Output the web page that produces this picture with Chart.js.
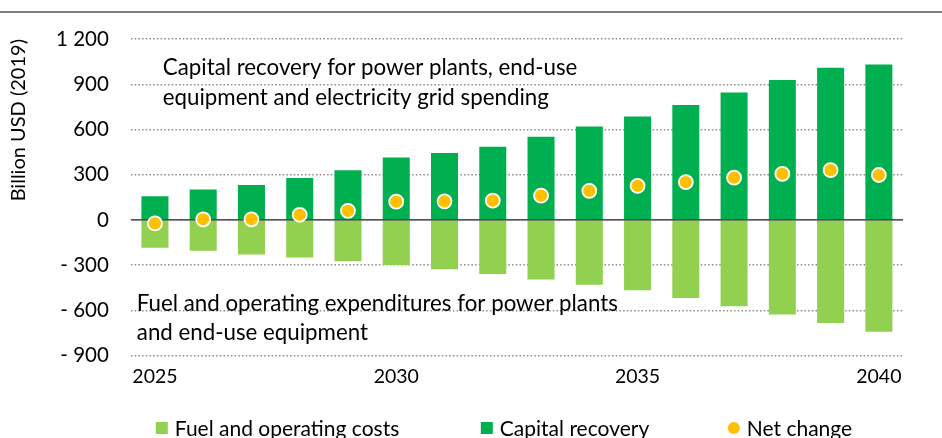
<!DOCTYPE html>
<html><head><meta charset="utf-8">
<script src="https://cdn.jsdelivr.net/npm/chart.js@4"></script>
<style>html,body{margin:0;padding:0;background:#fff}#wrap{width:942px;height:438px;position:relative}</style>
</head><body><div id="wrap"><canvas id="c"></canvas></div>
<script>
const years = ['2025','2026','2027','2028','2029','2030','2031','2032','2033','2034','2035','2036','2037','2038','2039','2040'];
const shownYearLabels = ['2025','2030','2035','2040'];
const capitalRecovery = [157,202,231,278,330,414,444,486,551,619,686,762,845,928,1009,1031];
const fuelCosts = [-184,-204,-229,-249,-274,-299,-328,-359,-395,-430,-467,-518,-572,-628,-684,-742];
const netChange = [-23,4,4,34,60,121,123,128,161,193,226,251,280,305,330,298];
const yTicks = [-900,-600,-300,0,300,600,900,1200];
const seriesNames = ['Fuel and operating costs','Capital recovery','Net change'];
const yAxisTitle = 'Billion USD (2019)';
const annotationTop = ['Capital recovery for power plants, end-use','equipment and electricity grid spending'];
const annotationBottom = ['Fuel and operating expenditures for power plants','and end-use equipment'];

const FONT = 'Lato, "Liberation Sans", sans-serif';
const COL_FUEL = '#92D050', COL_CAP = '#00B050', COL_NET = '#FFC000';

function fmtTick(v){
  const a = Math.abs(v);
  let s = a >= 1000 ? Math.floor(a/1000) + ' ' + String(a%1000).padStart(3,'0') : String(a);
  return v < 0 ? '- ' + s : s;
}

const decor = {
  id: 'decor',
  beforeDatasetDraw(chart, args){
    if (args.meta.type !== 'line') return;
    const {ctx, chartArea} = chart;
    const y = chart.scales.y.getPixelForValue(0);
    ctx.save();
    ctx.strokeStyle = '#1a1a1a'; ctx.lineWidth = 1.2;
    ctx.beginPath(); ctx.moveTo(chartArea.left, y); ctx.lineTo(chartArea.right, y); ctx.stroke();
    ctx.restore();
  },
  afterDraw(chart){
    const {ctx, chartArea} = chart;
    const ys = chart.scales.y;
    ctx.save();
    // top rule
    ctx.strokeStyle = '#808080'; ctx.lineWidth = 2;
    ctx.beginPath(); ctx.moveTo(0, 12); ctx.lineTo(chart.width, 12); ctx.stroke();
    // annotations
    ctx.fillStyle = '#000'; ctx.font = '22.3px ' + FONT; ctx.textAlign = 'left'; ctx.textBaseline = 'alphabetic';
    annotationTop.forEach((t,i)=> ctx.fillText(t, chartArea.left + 32, ys.getPixelForValue(1200) + 36 + i*29.5));
    annotationBottom.forEach((t,i)=> ctx.fillText(t, chartArea.left + 6, ys.getPixelForValue(-300) + 46 + i*28.5));
    // legend
    const ds = chart.data.datasets;
    const starts = [chartArea.left + 25, chartArea.left + 350, chartArea.left + 597];
    const ly = 428;
    ctx.font = '21px ' + FONT; ctx.textBaseline = 'middle';
    [0,1,2].forEach((di,k)=>{
      const d = ds[di]; const x = starts[k];
      ctx.fillStyle = d.backgroundColor;
      if (d.type === 'line'){
        ctx.beginPath(); ctx.arc(x+6, ly, 6, 0, Math.PI*2); ctx.fill();
      } else {
        ctx.fillRect(x, ly-6, 12, 12);
      }
      ctx.fillStyle = '#000';
      ctx.fillText(d.label, x + 19, ly + 1);
    });
    ctx.restore();
  }
};

new Chart(document.getElementById('c'), {
  data: {
    labels: years,
    datasets: [
      {type:'bar', label: seriesNames[0], data: fuelCosts, backgroundColor: COL_FUEL, order: 2, barPercentage: 0.56, categoryPercentage: 1},
      {type:'bar', label: seriesNames[1], data: capitalRecovery, backgroundColor: COL_CAP, order: 1, barPercentage: 0.56, categoryPercentage: 1},
      {type:'line', label: seriesNames[2], data: netChange, backgroundColor: COL_NET, borderColor: '#fff', showLine: false,
       pointRadius: 7, pointBorderWidth: 1.8, pointBackgroundColor: COL_NET, pointBorderColor: '#fff', order: 0}
    ]
  },
  options: {
    responsive: true, maintainAspectRatio: false, animation: false,
    layout: {padding: {top: 39, right: 39, bottom: 41, left: 7}},
    plugins: {legend: {display: false}, tooltip: {enabled: false}},
    scales: {
      x: {
        stacked: true,
        grid: {display: false, drawTicks: false},
        border: {display: false},
        ticks: {autoSkip: false, maxRotation: 0, padding: 9, color: '#000', font: {family: FONT, size: 19.5},
                callback: function(v){ const l = this.getLabelForValue(v); return shownYearLabels.includes(l) ? l : ''; }}
      },
      y: {
        min: -900, max: 1200,
        afterBuildTicks: s => { s.ticks = yTicks.map(v=>({value:v})); },
        grid: {color: c => c.tick && c.tick.value === 0 ? 'rgba(0,0,0,0)' : '#8c8c8c', lineWidth: 1.4, drawTicks: false},
        border: {display: false, dash: [1.5, 2.2]},
        ticks: {padding: 22, color: '#000', font: {family: FONT, size: 20.5}, callback: v => fmtTick(v)},
        title: {display: true, text: yAxisTitle, align: 'end', color: '#000', font: {family: FONT, size: 20}, padding: {top: 0, bottom: 3}}
      }
    }
  },
  plugins: [decor]
});
</script></body></html>
